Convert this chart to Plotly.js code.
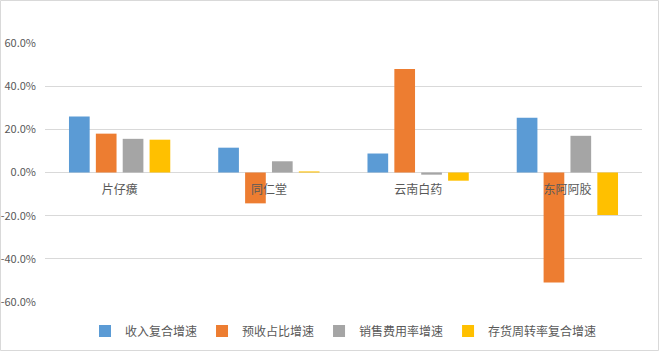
<!DOCTYPE html>
<html>
<head>
<meta charset="utf-8">
<script src="https://cdn.plot.ly/plotly-3.0.1.min.js"></script>
<style>html,body{margin:0;padding:0;background:#fff;}#chart{width:660px;height:352px;}</style>
</head>
<body>
<div id="chart"></div>
<script>
const categories = ['片仔癀', '同仁堂', '云南白药', '东阿阿胶'];
const seriesNames = ['收入复合增速', '预收占比增速', '销售费用率增速', '存货周转率复合增速'];
const revenueGrowth = [26.0, 11.5, 8.8, 25.4];
const advanceRatioGrowth = [18.0, -14.3, 48.0, -51.0];
const salesExpenseGrowth = [15.6, 5.2, -1.0, 17.0];
const inventoryTurnoverGrowth = [15.2, 0.5, -3.8, -19.7];
const yTicks = [-60, -40, -20, 0, 20, 40, 60];
const yTickLabels = ['-60.0%', '-40.0%', '-20.0%', '0.0%', '20.0%', '40.0%', '60.0%'];

const colors = ['#5b9bd5', '#ed7d31', '#a5a5a5', '#ffc000'];
const allSeries = [revenueGrowth, advanceRatioGrowth, salesExpenseGrowth, inventoryTurnoverGrowth];
const font = 'Noto Sans CJK SC, Noto Sans, sans-serif';

const traces = allSeries.map((vals, i) => ({
  type: 'bar',
  name: seriesNames[i],
  x: categories,
  y: vals,
  marker: {color: colors[i], line: {width: 0}},
  hoverinfo: 'none'
}));

const W = 597, H = 259, L = 45, T = 43;
const px = x => (x - L) / W;
const py = y => (T + H - y) / H;

const layout = {
  width: 660, height: 352,
  margin: {l: L, r: 18, t: T, b: 50, autoexpand: false},
  paper_bgcolor: '#ffffff',
  plot_bgcolor: '#ffffff',
  barmode: 'group',
  bargap: 0.28,
  bargroupgap: 0.23,
  font: {family: font, size: 12, color: '#595959'},
  showlegend: true,
  legend: {
    orientation: 'h', x: 0.5, xanchor: 'center',
    yref: 'container', y: (352 - 331) / 352, yanchor: 'middle',
    font: {family: font, size: 12, color: '#595959'},
    itemwidth: 30, traceorder: 'normal'
  },
  xaxis: {
    type: 'category',
    anchor: 'free', position: 0.5,
    showline: false, showgrid: false, zeroline: false,
    ticks: '', tickfont: {family: font, size: 12, color: '#595959'},
    ticklabelstandoff: 8,
    automargin: false,
    fixedrange: true
  },
  yaxis: {
    range: [-60, 60],
    tickmode: 'array',
    tickvals: yTicks,
    ticktext: yTickLabels,
    showgrid: true, gridcolor: '#d9d9d9', gridwidth: 1,
    zeroline: true, zerolinecolor: '#d9d9d9', zerolinewidth: 1,
    showline: false, ticks: '',
    tickfont: {family: font, size: 11, color: '#595959'},
    ticklabelstandoff: 8,
    automargin: false,
    fixedrange: true
  },
  shapes: [{
    type: 'rect', xref: 'paper', yref: 'paper',
    x0: px(0.5), x1: px(658.5), y0: py(350.5), y1: py(0.5),
    line: {color: '#d9d9d9', width: 1}, layer: 'below'
  }]
};

Plotly.newPlot('chart', traces, layout, {displayModeBar: false, staticPlot: true});
</script>
</body>
</html>
